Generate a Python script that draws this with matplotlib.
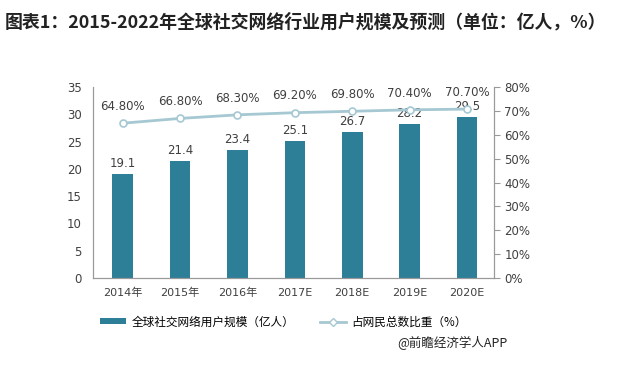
import matplotlib
matplotlib.use("Agg")
import matplotlib.pyplot as plt
from matplotlib.lines import Line2D
from matplotlib.patches import Patch

plt.rcParams['font.family'] = ['DejaVu Sans', 'Noto Sans CJK SC']

years = ['2014年', '2015年', '2016年', '2017E', '2018E', '2019E', '2020E']
users = [19.1, 21.4, 23.4, 25.1, 26.7, 28.2, 29.5]
share = [64.8, 66.8, 68.3, 69.2, 69.8, 70.4, 70.7]

bar_color = '#2D7E97'
line_color = '#A5C8D3'
text_color = '#404040'
spine_color = '#999999'

fig = plt.figure(figsize=(6.19, 3.65), dpi=100)
ax = fig.add_axes([0.150, 0.238, 0.648, 0.524])
ax2 = ax.twinx()

x = list(range(len(years)))
ax.bar(x, users, width=0.36, color=bar_color, zorder=2)
for xi, v in zip(x, users):
    ax.text(xi, v + 0.75, f'{v}', ha='center', va='bottom', fontsize=8.5, color=text_color)

ax.set_ylim(0, 35)
ax.set_yticks(range(0, 36, 5))
ax.set_xlim(-0.52, 6.47)
ax.set_xticks(x)
ax.set_xticklabels(years, fontsize=8, color=text_color)
ax.tick_params(axis='y', length=0, labelsize=8.5, labelcolor=text_color, pad=8)
ax.tick_params(axis='x', length=0, pad=7)

ax2.plot(x, share, color=line_color, lw=2, marker='o', ms=5,
         markerfacecolor='white', markeredgecolor=line_color, mew=1.2, zorder=3)
for xi, v in zip(x, share):
    ax2.text(xi, v + 4.3, f'{v:.2f}%', ha='center', va='bottom', fontsize=8.5, color=text_color)
ax2.set_ylim(0, 80)
ax2.set_yticks(range(0, 81, 10))
ax2.set_yticklabels([f'{t}%' for t in range(0, 81, 10)])
ax2.tick_params(axis='y', length=4, color=spine_color, labelsize=8.5, labelcolor=text_color)

for a in (ax, ax2):
    a.spines['top'].set_visible(False)
    for s in ('left', 'right', 'bottom'):
        a.spines[s].set_color(spine_color)
        a.spines[s].set_linewidth(0.8)

fig.text(0.008, 0.94, '图表1：2015-2022年全球社交网络行业用户规模及预测（单位：亿人，%）',
         fontsize=12.9, fontweight='bold', family=['Noto Sans CJK SC'], color='#222222',
         va='center', ha='left')

handles = [Patch(facecolor=bar_color),
           Line2D([0], [0], color=line_color, lw=2, marker='D', ms=4,
                  markerfacecolor='white', markeredgecolor=line_color)]
labels = ['全球社交网络用户规模（亿人）', '占网民总数比重（%）']
fig.legend(handles, labels, loc='center', bbox_to_anchor=(0.458, 0.118), ncol=2,
           frameon=False, handlelength=2.2, handleheight=0.45, handletextpad=0.5,
           columnspacing=2.2, prop={'family': ['Noto Sans CJK SC'], 'size': 8.4})

fig.text(0.82, 0.06, '@前瞻经济学人APP', fontsize=9, ha='right', va='center',
         family=['Noto Sans CJK SC'], color='#222222')

fig.savefig('out.png', dpi=100)
